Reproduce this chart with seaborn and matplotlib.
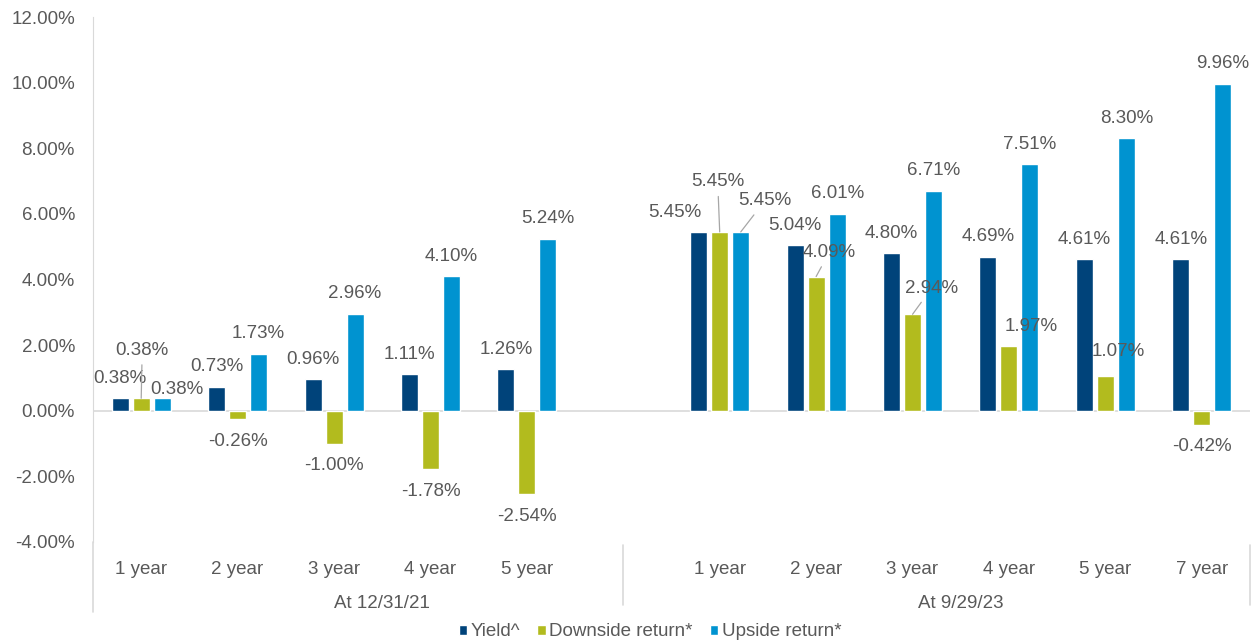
import pandas as pd
import numpy as np
import seaborn as sns
import matplotlib.pyplot as plt
from matplotlib.lines import Line2D
import matplotlib.transforms as mtransforms

# Chart values
periods = ["At 12/31/21", "At 9/29/23"]
tenors_2021 = ["1 year", "2 year", "3 year", "4 year", "5 year"]
tenors_2023 = ["1 year", "2 year", "3 year", "4 year", "5 year", "7 year"]
series_names = ["Yield^", "Downside return*", "Upside return*"]

yield_2021 = [0.38, 0.73, 0.96, 1.11, 1.26]
down_2021 = [0.38, -0.26, -1.00, -1.78, -2.54]
up_2021 = [0.38, 1.73, 2.96, 4.10, 5.24]

yield_2023 = [5.45, 5.04, 4.80, 4.69, 4.61, 4.61]
down_2023 = [5.45, 4.09, 2.94, 1.97, 1.07, -0.42]
up_2023 = [5.45, 6.01, 6.71, 7.51, 8.30, 9.96]

colors = ["#00437A", "#B2BB1E", "#0093D0"]
text_color = "#595959"
line_color = "#D9D9D9"


def buildFrame():
    rows = []
    blocks = [
        (periods[0], tenors_2021, [yield_2021, down_2021, up_2021]),
        (periods[1], tenors_2023, [yield_2023, down_2023, up_2023]),
    ]
    for period, tenors, values in blocks:
        for name, vals in zip(series_names, values):
            for tenor, v in zip(tenors, vals):
                rows.append({"slot": period + "|" + tenor, "series": name, "value": v})
    return pd.DataFrame(rows)


df = buildFrame()
# one empty slot between the two periods
order = [periods[0] + "|" + t for t in tenors_2021] + ["blank"] + [periods[1] + "|" + t for t in tenors_2023]
tick_labels = tenors_2021 + [""] + tenors_2023

sns.set_style("white")
plt.rcParams["font.family"] = ["Liberation Sans", "DejaVu Sans"]

fig = plt.figure(figsize=(12.58, 6.44), dpi=100)
ax = fig.add_axes([93 / 1258, (644 - 542) / 644, (1250 - 93) / 1258, (542 - 17) / 644])

sns.barplot(data=df, x="slot", y="value", hue="series", order=order,
            hue_order=series_names, palette=colors, width=0.654, gap=0.19,
            errorbar=None, saturation=1, ax=ax)

ax.set_xlim(-0.5, len(order) - 0.5)
ax.set_ylim(-4, 12)
ax.set_yticks(np.arange(-4, 12.1, 2))
ax.set_yticklabels([f"{v:.2f}%" for v in np.arange(-4, 12.1, 2)])
ax.set_xticks(range(len(order)))
ax.set_xticklabels(tick_labels)
ax.set_xlabel("")
ax.set_ylabel("")
ax.tick_params(axis="y", length=0, pad=13, labelsize=13.5, labelcolor=text_color)
ax.tick_params(axis="x", length=0, pad=14, labelsize=13.5, labelcolor=text_color)

for side in ["top", "right", "bottom"]:
    ax.spines[side].set_visible(False)
ax.spines["left"].set_color(line_color)
ax.axhline(0, color=line_color, lw=1.2, zorder=0)

# label offsets in pixels relative to bar end (dx, dy, leader line)
special = {
    (1, 0): (1, 48, True),
    (2, 0): (15, 9, False),
    (0, 6): (-24, 19, False),
    (1, 6): (-2, 50, True),
    (2, 6): (24, 31, True),
    (1, 7): (13, 24, True),
    (1, 8): (19, 26, True),
    (1, 9): (22, 20, False),
    (1, 10): (13, 24, False),
}

for i, cont in enumerate(ax.containers):
    for bar in cont:
        h = bar.get_height()
        if np.isnan(h):
            continue
        xc = bar.get_x() + bar.get_width() / 2
        slot = int(round(xc))
        if (i, slot) in special:
            dx, dy, leader = special[(i, slot)]
        else:
            dx, dy, leader = 0, (20 if h >= 0 else -22), False
        kw = {}
        if leader:
            kw["arrowprops"] = dict(arrowstyle="-", color="#A6A6A6", lw=0.9,
                                    shrinkA=2, shrinkB=0)
        ax.annotate(f"{h:.2f}%", xy=(xc, h), xytext=(dx, dy),
                    textcoords="offset pixels", ha="center", va="center",
                    fontsize=13.5, color=text_color, **kw)

# two-level category axis
trans = mtransforms.blended_transform_factory(ax.transData, ax.transAxes)
ax.text(2.5, -0.118, periods[0], transform=trans, ha="center", va="center",
        fontsize=13.5, color=text_color)
ax.text(8.5, -0.118, periods[1], transform=trans, ha="center", va="center",
        fontsize=13.5, color=text_color)
for x0, y1 in [(-0.5, -0.133), (5.0, -0.12), (11.5, -0.12)]:
    y0 = 0 if x0 == -0.5 else -0.005
    ax.add_line(Line2D([x0, x0], [y0, y1], transform=trans, color=line_color,
                       lw=1.2, clip_on=False))

handles, labels = ax.get_legend_handles_labels()
ax.get_legend().remove()
fig.legend(handles, labels, loc="center", bbox_to_anchor=(650 / 1258, 12 / 644),
           ncol=3, frameon=False, fontsize=13.5, handlelength=0.45,
           handleheight=0.45, handletextpad=0.2, columnspacing=0.9,
           labelcolor=text_color)

fig.savefig("out.png", dpi=100)
